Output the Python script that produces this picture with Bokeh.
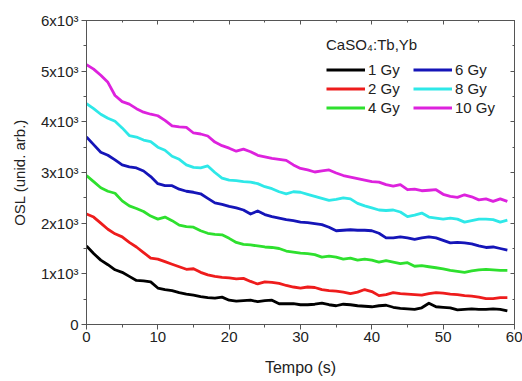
from bokeh.plotting import figure
from bokeh.models import (LinearAxis, Range1d, Legend, LegendItem, SingleIntervalTicker,
                          CustomJSTickFormatter)
from bokeh.embed import file_html
from bokeh.resources import INLINE

time_s = list(range(60))
dose_labels = ["1 Gy", "2 Gy", "4 Gy", "6 Gy", "8 Gy", "10 Gy"]
legend_title = "CaSO\u2084:Tb,Yb"
x_title = "Tempo (s)"
y_title = "OSL (unid. arb.)"

osl_1gy = [1550, 1400, 1270, 1180, 1080, 1030, 950, 870, 860, 840,
           720, 690, 670, 630, 600, 580, 550, 530, 520, 540,
           480, 460, 470, 480, 450, 470, 480, 410, 410, 410,
           390, 390, 400, 420, 390, 370, 400, 390, 370, 360,
           350, 370, 380, 340, 320, 310, 300, 330, 420, 350,
           340, 330, 290, 300, 310, 300, 300, 310, 300, 270]
osl_2gy = [2180, 2120, 2000, 1880, 1790, 1730, 1620, 1530, 1420, 1310,
           1290, 1240, 1190, 1140, 1090, 1100, 1030, 980, 950, 930,
           920, 900, 910, 850, 800, 840, 830, 810, 770, 740,
           720, 740, 730, 690, 670, 660, 640, 610, 640, 690,
           650, 570, 590, 630, 610, 600, 590, 580, 610, 630,
           620, 600, 590, 570, 560, 540, 510, 510, 530, 530]
osl_4gy = [2940, 2820, 2700, 2630, 2590, 2440, 2340, 2290, 2230, 2140,
           2080, 2120, 2050, 1960, 1930, 1920, 1850, 1800, 1780, 1770,
           1700, 1620, 1580, 1570, 1550, 1530, 1520, 1500, 1450, 1430,
           1410, 1400, 1380, 1330, 1350, 1330, 1290, 1310, 1270, 1290,
           1270, 1230, 1260, 1230, 1200, 1220, 1150, 1160, 1140, 1120,
           1100, 1070, 1050, 1030, 1060, 1080, 1090, 1080, 1070, 1070]
osl_6gy = [3700, 3550, 3400, 3340, 3250, 3150, 3110, 3090, 3030, 2920,
           2780, 2740, 2740, 2670, 2630, 2610, 2580, 2490, 2400, 2370,
           2330, 2300, 2260, 2180, 2240, 2170, 2130, 2100, 2070, 2050,
           2020, 2010, 1990, 1970, 1920, 1850, 1860, 1870, 1860, 1860,
           1850, 1800, 1710, 1710, 1730, 1710, 1680, 1710, 1730, 1710,
           1660, 1610, 1620, 1610, 1590, 1550, 1520, 1530, 1500, 1470]
osl_8gy = [4360, 4260, 4150, 4070, 4010, 3880, 3730, 3700, 3640, 3610,
           3500, 3440, 3320, 3260, 3150, 3100, 3090, 3130, 3000, 2890,
           2850, 2840, 2820, 2810, 2780, 2720, 2680, 2620, 2580, 2620,
           2610, 2570, 2530, 2490, 2450, 2470, 2500, 2480, 2390, 2340,
           2300, 2260, 2250, 2260, 2220, 2130, 2160, 2200, 2120, 2100,
           2080, 2100, 2080, 2020, 2050, 2080, 2080, 2070, 2020, 2060]
osl_10gy = [5130, 5040, 4920, 4780, 4520, 4400, 4350, 4260, 4190, 4150,
            4120, 4030, 3920, 3900, 3890, 3780, 3760, 3720, 3600, 3530,
            3480, 3420, 3460, 3410, 3340, 3310, 3280, 3260, 3240, 3150,
            3080, 3050, 3010, 3030, 3050, 2990, 2940, 2910, 2880, 2850,
            2820, 2810, 2760, 2730, 2760, 2660, 2670, 2640, 2650, 2660,
            2570, 2530, 2510, 2560, 2520, 2460, 2480, 2430, 2480, 2430]

series = [osl_1gy, osl_2gy, osl_4gy, osl_6gy, osl_8gy, osl_10gy]
colors = ["#000000", "#ee1c1c", "#2ee02e", "#1515b8", "#2ee8e8", "#dd22dd"]

FONT = "Liberation Sans"
AXIS_COLOR = "#555555"
TEXT_COLOR = "#222222"

p = figure(width=522, height=381, output_backend="svg", toolbar_location=None,
           x_range=Range1d(0, 60), y_range=Range1d(0, 6000),
           min_border_left=86, min_border_right=8, min_border_top=20,
           min_border_bottom=57, background_fill_color="white",
           border_fill_color="white")
p.xgrid.visible = False
p.ygrid.visible = False
p.outline_line_color = AXIS_COLOR
p.outline_line_width = 1

xt = SingleIntervalTicker(interval=10, num_minor_ticks=2)
yt = SingleIntervalTicker(interval=1000, num_minor_ticks=2)

xa = p.xaxis[0]
xa.ticker = xt
ya = p.yaxis[0]
ya.ticker = yt
ya.formatter = CustomJSTickFormatter(
    code="return tick == 0 ? '0' : (tick/1000).toFixed(0) + 'x10\u00b3';")

for ax in (xa, ya):
    ax.axis_line_color = AXIS_COLOR
    ax.major_tick_line_color = AXIS_COLOR
    ax.minor_tick_line_color = AXIS_COLOR
    ax.major_tick_out = 5
    ax.major_tick_in = 0
    ax.minor_tick_out = 3
    ax.minor_tick_in = 0
    ax.major_label_text_font = FONT
    ax.major_label_text_font_size = "15px"
    ax.major_label_text_color = TEXT_COLOR
    ax.axis_label_text_font = FONT
    ax.axis_label_text_font_style = "normal"
    ax.axis_label_text_color = TEXT_COLOR
xa.axis_label = x_title
xa.axis_label_text_font_size = "16px"
xa.major_label_standoff = 2
xa.axis_label_standoff = 14
ya.axis_label = y_title
ya.axis_label_text_font_size = "15px"
ya.major_label_standoff = 3
ya.axis_label_standoff = 10

blank = CustomJSTickFormatter(code="return '';")
top = LinearAxis(ticker=SingleIntervalTicker(interval=10, num_minor_ticks=2),
                 formatter=blank, major_label_text_font_size="1px",
                 major_label_standoff=0)
right = LinearAxis(ticker=SingleIntervalTicker(interval=1000, num_minor_ticks=2),
                   formatter=blank, major_label_text_font_size="1px",
                   major_label_standoff=0)
for ax in (top, right):
    ax.axis_line_color = AXIS_COLOR
    ax.major_tick_line_color = AXIS_COLOR
    ax.minor_tick_line_color = AXIS_COLOR
    ax.major_tick_in = 4
    ax.major_tick_out = 0
    ax.minor_tick_in = 2
    ax.minor_tick_out = 0
p.add_layout(top, "above")
p.add_layout(right, "right")

items = []
for lab, ys, col in zip(dose_labels, series, colors):
    r = p.line(time_s, ys, line_color=col, line_width=2.8, line_join="round")
    items.append(LegendItem(label=lab, renderers=[r]))

legend = Legend(items=items, ncols=2, location=(236, 203), title=legend_title,
                border_line_alpha=0, background_fill_alpha=0,
                glyph_width=39, glyph_height=19, label_width=45, label_height=19,
                label_standoff=3, spacing=0, padding=4, margin=0,
                title_standoff=7,
                label_text_font=FONT, label_text_font_size="15px",
                label_text_color=TEXT_COLOR,
                title_text_font=FONT, title_text_font_size="15px",
                title_text_font_style="normal", title_text_color=TEXT_COLOR)
p.add_layout(legend, "center")

open("out.html", "w").write(file_html(p, INLINE))
